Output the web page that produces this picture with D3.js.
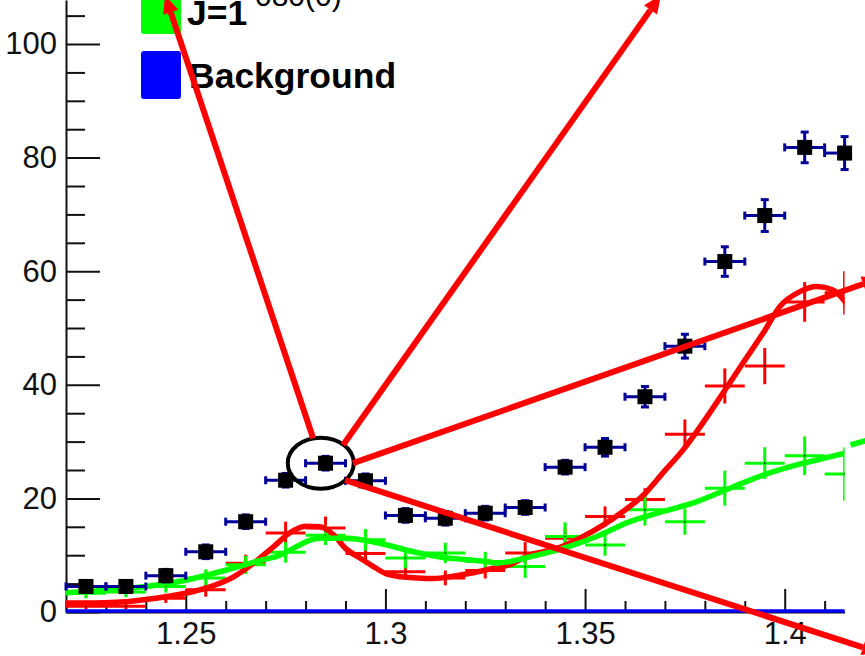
<!DOCTYPE html>
<html><head><meta charset="utf-8">
<script src="https://cdn.jsdelivr.net/npm/d3@7"></script>
<style>html,body{margin:0;padding:0;background:#fff;overflow:hidden;} svg{display:block;}</style>
</head><body>
<svg id="c" width="865" height="656"></svg>
<script>
// ---------------- data ----------------
const binCenters = [1.225,1.235,1.245,1.255,1.265,1.275,1.285,1.295,1.305,1.315,1.325,1.335,1.345,1.355,1.365,1.375,1.385,1.395,1.405,1.415];
const dataValues = [4.5,4.5,6.4,10.6,15.9,23.2,26.2,23.1,17.0,16.5,17.4,18.4,25.5,29.0,37.9,46.8,61.7,69.8,81.8,80.8];
const dataErrors = [1.0,1.0,1.1,1.2,1.2,1.2,1.2,1.2,1.2,1.2,1.2,1.2,1.2,1.55,1.8,2.1,2.6,2.8,2.7,2.9];
const redValues = [1.0,1.0,2.4,3.9,8.6,13.9,14.8,10.3,7.1,6.0,7.3,10.4,13.0,16.8,19.8,31.3,39.8,43.3,54.6,56.2];
const redErrors = [0.5,0.5,0.8,1.2,1.5,2.0,2.0,1.7,1.4,1.3,1.4,1.9,1.9,1.8,2.0,2.6,3.1,3.2,3.5,3.8];
const greenValues = [3.3,3.5,4.5,6.0,8.3,10.5,13.5,12.7,9.5,10.4,8.9,8.0,13.3,11.8,18.0,15.9,21.8,26.2,27.5,24.3];
const greenErrors = [0.9,0.9,1.1,1.5,1.6,1.8,1.7,1.9,1.8,1.8,1.7,2.0,2.5,1.9,2.8,2.3,3.1,2.8,3.4,4.7];
const backgroundX = [1.22,1.415];
const backgroundValues = [0,0];
const redCurveX = [1.220,1.2275,1.235,1.240,1.245,1.250,1.255,1.262,1.267,1.272,1.276,1.280,1.2836,1.287,1.290,1.2936,1.297,1.300,1.304,1.308,1.312,1.317,1.322,1.327,1.331,1.336,1.343,1.3487,1.3545,1.3595,1.3645,1.3695,1.3745,1.3788,1.3845,1.3895,1.3946,1.3988,1.4038,1.408,1.4121,1.4155];
const redCurveY = [1.6,1.6,1.8,2.2,2.7,3.3,4.2,6.2,8.6,11.5,13.9,15.1,15.0,13.6,11.2,9.5,8.0,6.8,6.2,6.0,5.9,6.3,6.9,7.7,8.3,10.0,11.2,13.0,15.3,17.7,20.5,24.5,28.5,32.6,38.5,43.8,49.1,53.8,56.4,57.3,56.7,54.3];
const greenCurveX = [1.220,1.240,1.250,1.2602,1.2693,1.2736,1.2769,1.2819,1.2836,1.2903,1.2986,1.307,1.3137,1.3204,1.327,1.3278,1.3312,1.3362,1.3445,1.3529,1.3612,1.3696,1.3779,1.3863,1.3946,1.403,1.4113,1.4147];
const greenCurveY = [3.4,4.5,5.6,7.4,9.2,10.0,11.2,12.8,13.0,13.0,12.1,10.6,9.7,9.2,8.7,8.6,8.9,9.7,11.2,13.3,15.9,17.7,19.4,21.8,24.1,25.9,27.3,27.9];
const greenTailX = [1.4165,1.4205];
const greenTailY = [29.4,30.2];
const xTickValues = [1.25,1.3,1.35,1.4];
const xTickLabels = ['1.25','1.3','1.35','1.4'];
const yTickValues = [0,20,40,60,80,100];
const yTickLabels = ['0','20','40','60','80','100'];
const legendLabels = ['J=1','Background'];
const legendColors = ['#00ff00','#0000ff'];
// annotation (data coordinates)
const ellipseCenter = [1.2838, 26.2];
const arrowStarts = [[1.2819,30.6],[1.2894,29.4],[1.2919,26.2],[1.2899,23.2]];
const arrowEnds   = [[1.2448,108.6],[1.3690,108.6],[1.4239,58.8],[1.4239,-7.2]];

// ---------------- scales ----------------
const svg = d3.select('#c');
const x = d3.scaleLinear().domain([1.22,1.415]).range([66,844.6]);
const y = d3.scaleLinear().domain([0,107.75]).range([612,0]);
const FONT = '"Liberation Sans", Arial, Helvetica, sans-serif';

svg.append('defs').append('clipPath').attr('id','plot')
  .append('rect').attr('x',66).attr('y',-20).attr('width',844.6-66).attr('height',640);

// ---------------- axes ----------------
const xMinor = d3.range(1.22,1.4151,0.01).map(v=>+v.toFixed(3)).filter(v=>!xTickValues.includes(v));
const yMinor = d3.range(0,106,5).filter(v=>v%20!==0);

const gxm = svg.append('g').attr('transform','translate(0,612)')
  .call(d3.axisBottom(x).tickValues(xMinor).tickSize(-11).tickSizeOuter(0).tickFormat(''));
gxm.select('.domain').remove();
const gx = svg.append('g').attr('transform','translate(0,612)')
  .call(d3.axisBottom(x).tickValues(xTickValues).tickSize(-23).tickSizeOuter(0).tickPadding(10)
     .tickFormat((d,i)=>xTickLabels[i]));
const gym = svg.append('g').attr('transform','translate(66,0)')
  .call(d3.axisLeft(y).tickValues(yMinor).tickSize(-19).tickSizeOuter(0).tickFormat(''));
gym.select('.domain').remove();
const gy = svg.append('g').attr('transform','translate(66,0)')
  .call(d3.axisLeft(y).tickValues(yTickValues).tickSize(-34).tickSizeOuter(0).tickPadding(9)
     .tickFormat((d,i)=>yTickLabels[i]));
svg.selectAll('.tick line').attr('stroke','#111').attr('stroke-width',2);
svg.selectAll('.domain').attr('stroke','#111').attr('stroke-width',2);
svg.selectAll('.tick text').attr('font-family',FONT).attr('font-size',31).attr('fill','#111');

// ---------------- plot content ----------------
const plot = svg.append('g').attr('clip-path','url(#plot)');

function crosses(vals, errs, color){
  const g = plot.append('g');
  binCenters.forEach((c,i)=>{
    g.append('line').attr('x1',x(c-0.005)).attr('x2',x(c+0.005)).attr('y1',y(vals[i])).attr('y2',y(vals[i]))
      .attr('stroke',color).attr('stroke-width',3);
    g.append('line').attr('x1',x(c)).attr('x2',x(c)).attr('y1',y(vals[i]-errs[i])).attr('y2',y(vals[i]+errs[i]))
      .attr('stroke',color).attr('stroke-width',3);
    g.append('rect').attr('x',x(c)-0.7).attr('y',y(vals[i])-0.7).attr('width',1.4).attr('height',1.4).attr('fill','#000');
  });
}
crosses(redValues, redErrors, '#ff0000');
crosses(greenValues, greenErrors, '#00ff00');

const line = d3.line().x(d=>x(d[0])).y(d=>y(d[1])).curve(d3.curveMonotoneX);
plot.append('path').datum(redCurveX.map((v,i)=>[v,redCurveY[i]]))
  .attr('d',line).attr('fill','none').attr('stroke','#ff0000').attr('stroke-width',5.5);
plot.append('path').datum(greenCurveX.map((v,i)=>[v,greenCurveY[i]]))
  .attr('d',line).attr('fill','none').attr('stroke','#00ff00').attr('stroke-width',5.5);
svg.append('path').datum(greenTailX.map((v,i)=>[v,greenTailY[i]]))
  .attr('d',line).attr('fill','none').attr('stroke','#00ff00').attr('stroke-width',5.5);

// background
svg.append('path').datum(backgroundX.map((v,i)=>[v,backgroundValues[i]]))
  .attr('d',d3.line().x(d=>x(d[0])).y(d=>y(d[1])-1)).attr('stroke','#0000ff').attr('stroke-width',3.5).attr('fill','none');

// data points
const dg = svg.append('g');
const EB = '#000099';
binCenters.forEach((c,i)=>{
  const cx=x(c), cy=y(dataValues[i]);
  const xl=Math.max(x(c-0.005),66), xr=Math.min(x(c+0.005),844.6);
  dg.append('line').attr('x1',xl).attr('x2',xr).attr('y1',cy).attr('y2',cy).attr('stroke',EB).attr('stroke-width',3);
  if (x(c-0.005)>=66) dg.append('line').attr('x1',xl).attr('x2',xl).attr('y1',cy-4).attr('y2',cy+4).attr('stroke',EB).attr('stroke-width',3);
  if (x(c+0.005)<=844.6) dg.append('line').attr('x1',xr).attr('x2',xr).attr('y1',cy-4).attr('y2',cy+4).attr('stroke',EB).attr('stroke-width',3);
  const yt=y(dataValues[i]+dataErrors[i]), yb=y(dataValues[i]-dataErrors[i]);
  dg.append('line').attr('x1',cx).attr('x2',cx).attr('y1',yt).attr('y2',yb).attr('stroke',EB).attr('stroke-width',3);
  dg.append('line').attr('x1',cx-4).attr('x2',cx+4).attr('y1',yt).attr('y2',yt).attr('stroke',EB).attr('stroke-width',3);
  dg.append('line').attr('x1',cx-4).attr('x2',cx+4).attr('y1',yb).attr('y2',yb).attr('stroke',EB).attr('stroke-width',3);
  dg.append('rect').attr('x',cx-7.5).attr('y',cy-7.5).attr('width',15).attr('height',15).attr('fill','#000');
});

// ---------------- legend ----------------
const lg = svg.append('g');
legendLabels.forEach((t,i)=>{
  const top = i===0 ? -14 : 51;
  lg.append('rect').attr('x',141).attr('y',top).attr('width',40).attr('height',48).attr('rx',3)
    .attr('fill',legendColors[i]);
  lg.append('text').attr('x',i===0?187:189).attr('y',top+48-(i===0?9:11.5)).text(t)
    .attr('font-family',FONT).attr('font-weight','bold').attr('font-size',35.5).attr('fill','#000');
});
lg.append('text').attr('x',255).attr('y',6).text('080(0)')
  .attr('font-family',FONT).attr('font-size',30).attr('fill','#000');

// ---------------- annotation ----------------
const ann = svg.append('g');
ann.append('ellipse').attr('cx',x(ellipseCenter[0])).attr('cy',y(ellipseCenter[1]))
  .attr('rx',33).attr('ry',25.5).attr('fill','none').attr('stroke','#000').attr('stroke-width',4);
arrowStarts.forEach((s,i)=>{
  const e = arrowEnds[i];
  const x1=x(s[0]), y1=y(s[1]), x2=x(e[0]), y2=y(e[1]);
  const ang=Math.atan2(y2-y1,x2-x1), L=18, Wd=8;
  const bx=x2-L*Math.cos(ang), by=y2-L*Math.sin(ang);
  ann.append('line').attr('x1',x1).attr('y1',y1).attr('x2',bx).attr('y2',by)
    .attr('stroke','#ff0000').attr('stroke-width',6);
  ann.append('path').attr('d',`M${x2},${y2}L${bx-Wd*Math.sin(ang)},${by+Wd*Math.cos(ang)}L${bx+Wd*Math.sin(ang)},${by-Wd*Math.cos(ang)}Z`)
    .attr('fill','#ff0000');
});
</script>
</body></html>
